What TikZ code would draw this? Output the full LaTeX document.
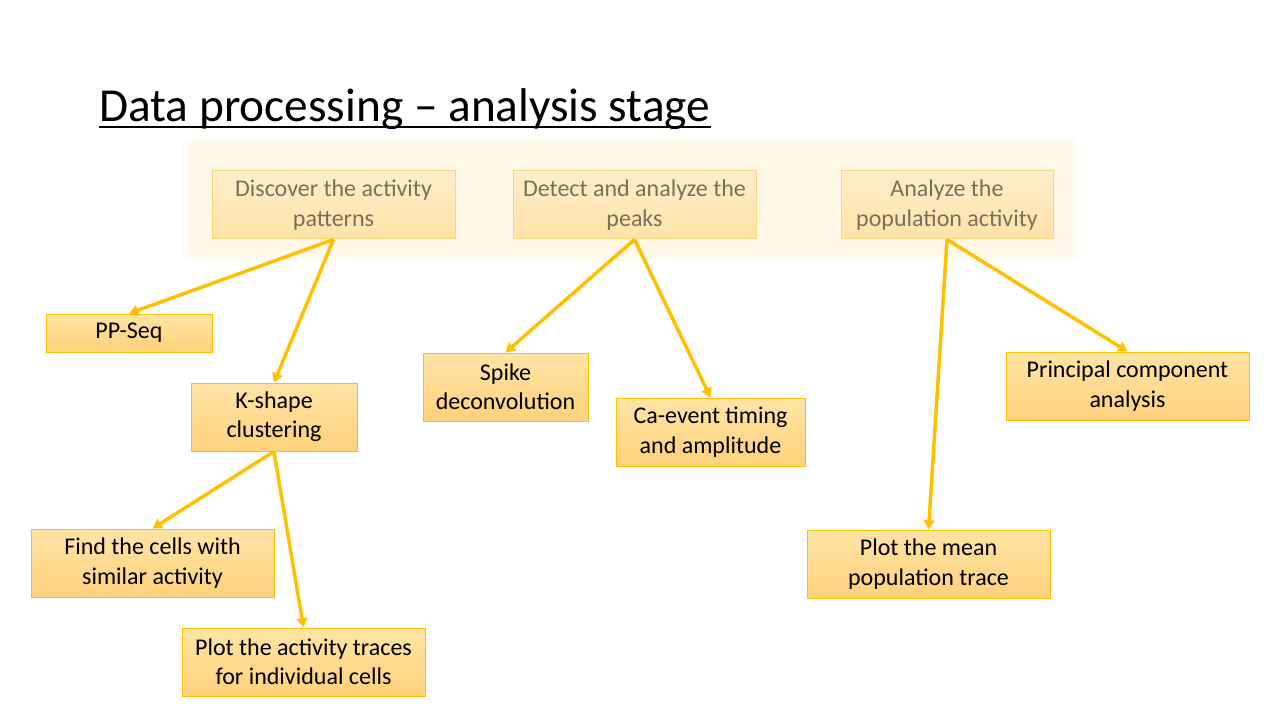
\documentclass[tikz,border=0pt]{standalone}
\usepackage{fontspec}
\setmainfont{Carlito}
\usetikzlibrary{arrows.meta}

\definecolor{gold}{RGB}{255,192,0}
\definecolor{boxtop}{RGB}{255,228,166}
\definecolor{boxbot}{RGB}{255,209,122}
\definecolor{fadetop}{RGB}{255,238,204}
\definecolor{fadebot}{RGB}{255,226,166}
\definecolor{fadeline}{RGB}{250,214,120}
\definecolor{fadetext}{RGB}{122,112,92}
\definecolor{glow}{RGB}{255,248,230}

\newdimen\pxu
\pxu=0.75pt

\tikzset{
    box/.style = {draw = gold, line width = 1\pxu, top color = boxtop, bottom color = boxbot,
                  inner sep = 0pt, align = center, font = \fontsize{18}{22}\selectfont},
    topbox/.style = {box, draw = fadeline, top color = fadetop, bottom color = fadebot,
                     text = fadetext},
    link/.style = {draw = gold, line width = 3.5\pxu, -{Triangle[length = 7pt, width = 8pt]}}
}

\begin{document}
\begin{tikzpicture}[x = 0.75pt, y = -0.75pt]
        \useasboundingbox [fill = white] (0, 0) rectangle (1280, 720);

        \node (title) [anchor = base west, inner sep = 0pt, font = \fontsize{35.5}{43}\selectfont]
            at (99, 122) {Data processing -- analysis stage};
        \draw [line width = 2\pxu] ([yshift = -5\pxu] title.base west) -- ([yshift = -5\pxu] title.base east);

        % soft band behind the three stages
        \fill [glow!35] (182, 137) rectangle (1078, 261);
        \fill [glow!70] (186, 141) rectangle (1074, 257);
        \fill [glow] (191, 146) rectangle (1069, 252);

        \node (disc) [topbox, minimum width = 243\pxu, minimum height = 68\pxu] at (333.5, 205)
            {Discover the activity\\patterns};
        \node (peak) [topbox, minimum width = 243\pxu, minimum height = 68\pxu] at (634.5, 205)
            {Detect and analyze the\\peaks};
        \node (popu) [topbox, minimum width = 212\pxu, minimum height = 68\pxu] at (947, 205)
            {Analyze the\\population activity};

        \node (ppseq) [box, minimum width = 166\pxu, minimum height = 38\pxu] at (129, 333) {PP-Seq};
        \node (kshape) [box, minimum width = 166\pxu, minimum height = 68\pxu] at (274, 417)
            {K-shape\\clustering};
        \node (spike) [box, minimum width = 165\pxu, minimum height = 68\pxu] at (505.5, 387)
            {Spike\\deconvolution};
        \node (caevt) [box, minimum width = 189\pxu, minimum height = 68\pxu] at (710.5, 432)
            {Ca-event timing\\and amplitude};
        \node (pca) [box, minimum width = 243\pxu, minimum height = 68\pxu] at (1127.5, 386)
            {Principal component\\analysis};
        \node (similar) [box, minimum width = 243\pxu, minimum height = 68\pxu] at (152.5, 563)
            {Find the cells with\\similar activity};
        \node (traces) [box, minimum width = 243\pxu, minimum height = 68\pxu] at (303.5, 662)
            {Plot the activity traces\\for individual cells};
        \node (mean) [box, minimum width = 243\pxu, minimum height = 68\pxu] at (928.5, 564)
            {Plot the mean\\population trace};

        \draw [link] (disc.south) -- (ppseq.north);
        \draw [link] (disc.south) -- (kshape.north);
        \draw [link] (peak.south) -- (spike.north);
        \draw [link] (peak.south) -- (caevt.north);
        \draw [link] (popu.south) -- (pca.north);
        \draw [link] (popu.south) -- (mean.north);
        \draw [link] (kshape.south) -- (similar.north);
        \draw [link] (kshape.south) -- (traces.north);
    \end{tikzpicture}
\end{document}
